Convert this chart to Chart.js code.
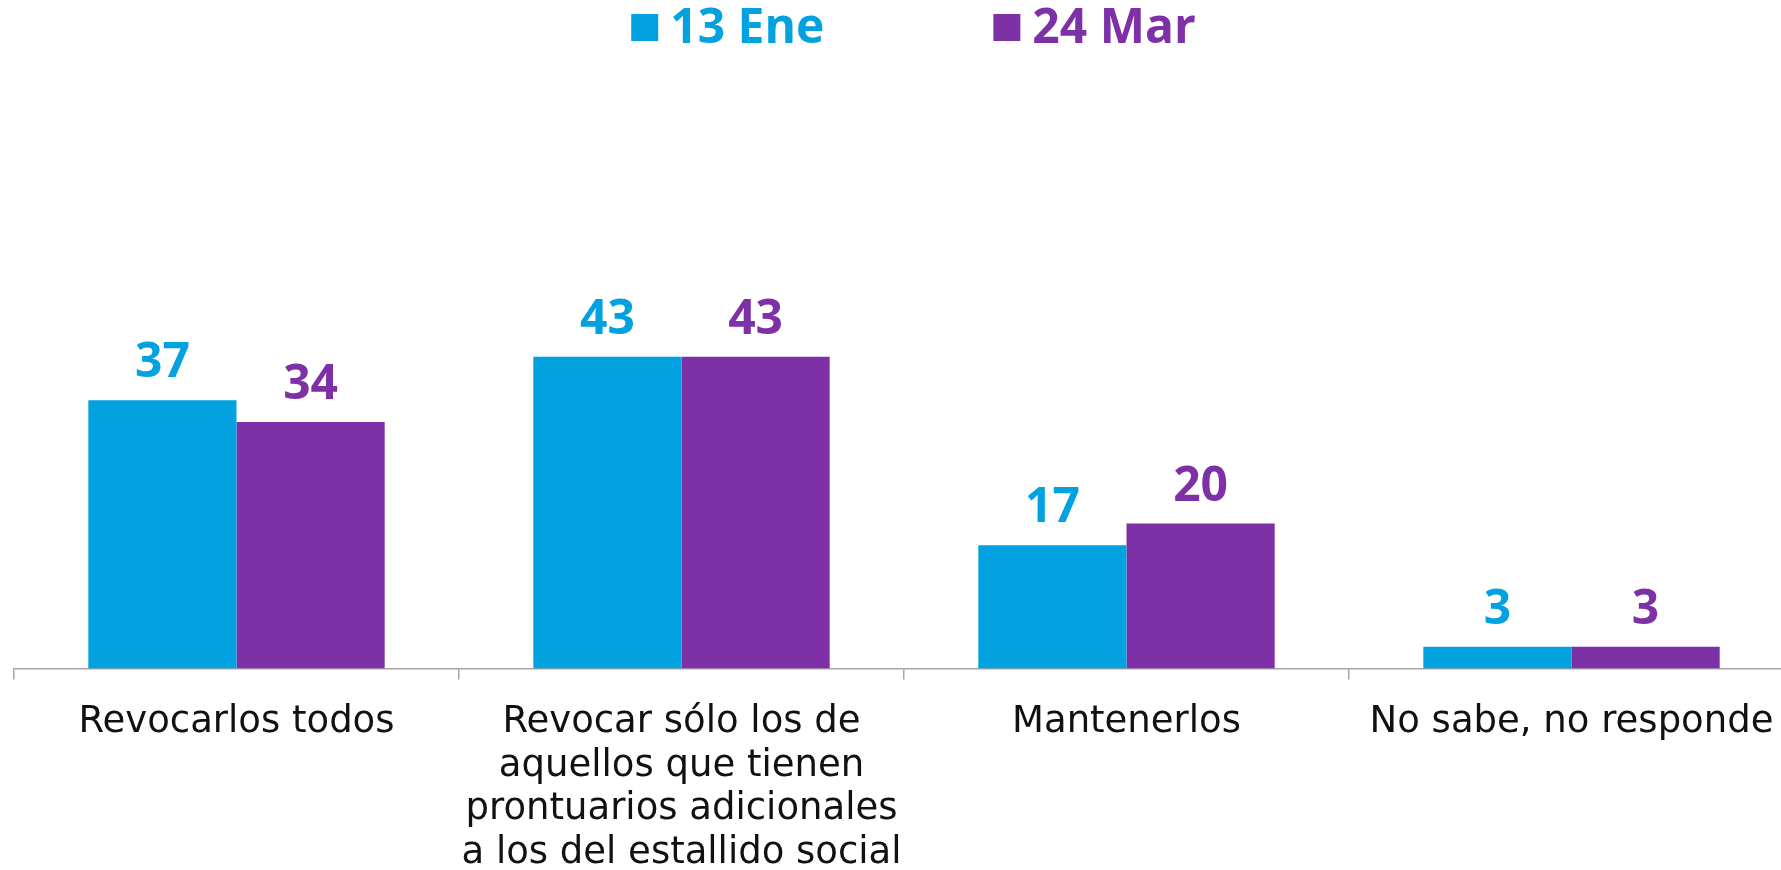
<!DOCTYPE html>
<html>
<head>
<meta charset="utf-8">
<script src="https://cdn.jsdelivr.net/npm/chart.js@4.4.1/dist/chart.umd.min.js"></script>
<style>
  html, body { margin: 0; padding: 0; background: #ffffff; overflow: hidden; }
  #wrap { width: 1781px; height: 870px; overflow: hidden; }
  canvas { display: block; }
</style>
</head>
<body>
<div id="wrap"><canvas id="c" width="1800" height="870"></canvas></div>
<script>
// ---- data ----
const categories = [
  ["Revocarlos todos"],
  ["Revocar sólo los de", "aquellos que tienen", "prontuarios adicionales", "a los del estallido social"],
  ["Mantenerlos"],
  ["No sabe, no responde"]
];
const seriesNames = ["13 Ene", "24 Mar"];
const seriesEne = [37, 43, 17, 3];
const seriesMar = [34, 43, 20, 3];
const seriesColors = ["#02A2E0", "#7E30A6"];

const numberFont = "700 48px 'Open Sans'";

const valueLabels = {
  id: 'valueLabels',
  afterDatasetsDraw(chart) {
    const ctx = chart.ctx;
    ctx.save();
    ctx.font = numberFont;
    ctx.textAlign = 'center';
    ctx.textBaseline = 'alphabetic';
    chart.data.datasets.forEach((ds, i) => {
      const meta = chart.getDatasetMeta(i);
      ctx.fillStyle = ds.backgroundColor;
      meta.data.forEach((el, j) => {
        ctx.fillText(String(ds.data[j]), el.x, el.y - 23);
      });
    });
    ctx.restore();
  }
};

const topLegend = {
  id: 'topLegend',
  afterDraw(chart) {
    const ctx = chart.ctx;
    const ca = chart.chartArea;
    ctx.save();
    ctx.font = numberFont;
    ctx.textBaseline = 'alphabetic';
    ctx.textAlign = 'left';
    const box = 27, gap = 12, itemGap = 169;
    const items = chart.data.datasets.map(ds => ({
      label: ds.label, color: ds.backgroundColor, w: ctx.measureText(ds.label).width
    }));
    let total = 0;
    items.forEach((it, k) => { total += box + gap + it.w + (k ? itemGap : 0); });
    let x = (ca.left + ca.right) / 2 + 9.5 - total / 2;
    items.forEach(it => {
      ctx.fillStyle = it.color;
      ctx.fillRect(x, 14, box, box);
      ctx.fillText(it.label, x + box + gap, 43);
      x += box + gap + it.w + itemGap;
    });
    ctx.restore();
  }
};

new Chart(document.getElementById('c'), {
  type: 'bar',
  data: {
    labels: categories,
    datasets: [
      { label: seriesNames[0], data: seriesEne, backgroundColor: seriesColors[0] },
      { label: seriesNames[1], data: seriesMar, backgroundColor: seriesColors[1] }
    ]
  },
  options: {
    responsive: false,
    animation: false,
    devicePixelRatio: 1,
    layout: { padding: { top: 88.5, left: 14, right: 6, bottom: 0 } },
    datasets: { bar: { categoryPercentage: 0.666, barPercentage: 1.0, borderWidth: 0 } },
    plugins: { legend: { display: false }, tooltip: { enabled: false } },
    scales: {
      y: { display: false, min: 0, max: 80 },
      x: {
        afterFit(scale) { scale.height = 870 - 668.5; },
        border: { display: true, color: '#A6A6A6', width: 1.5 },
        grid: { offset: true, drawOnChartArea: false, drawTicks: true, tickLength: 11, color: '#A6A6A6', lineWidth: 1.5 },
        ticks: {
          color: '#111111',
          padding: 21,
          maxRotation: 0,
          autoSkip: false,
          font: { family: "'DejaVu Sans'", size: 37, weight: '400', lineHeight: 1.18 }
        }
      }
    }
  },
  plugins: [valueLabels, topLegend]
});
</script>
</body>
</html>
